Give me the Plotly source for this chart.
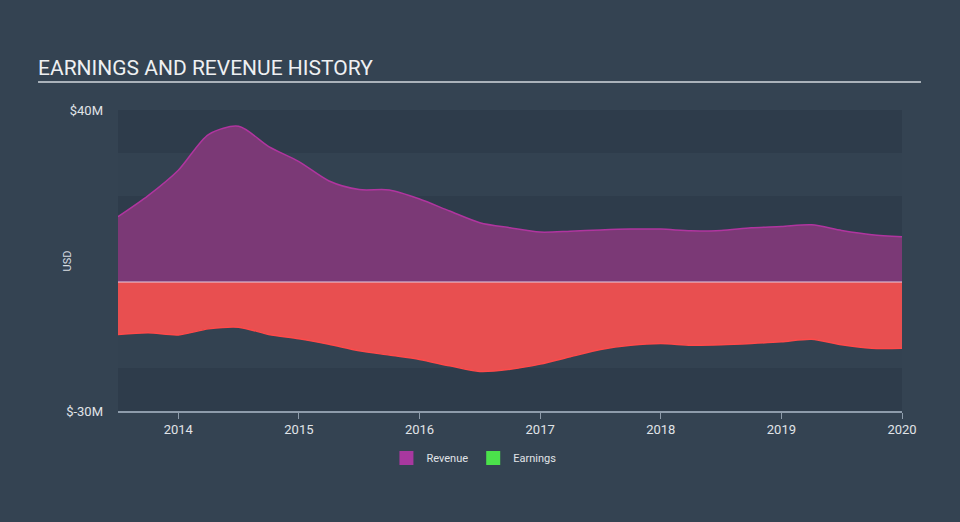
import plotly.graph_objects as go

# Quarterly positions (decimal years)
years = [2013.5 + 0.25 * i for i in range(27)]

revenue = [15.2, 20.1, 26.0, 34.3, 36.2, 31.5, 28.0, 23.5, 21.5, 21.4, 19.3, 16.5, 13.8,
           12.6, 11.6, 11.8, 12.1, 12.3, 12.3, 11.9, 12.0, 12.6, 12.9, 13.3, 12.0, 11.0, 10.5]
earnings = [-12.2, -11.8, -12.3, -10.9, -10.5, -12.2, -13.2, -14.5, -16.0, -17.0, -18.0, -19.5, -20.8,
            -20.3, -19.1, -17.4, -15.7, -14.7, -14.3, -14.7, -14.6, -14.3, -13.9, -13.3, -14.6, -15.4, -15.4]

x_ticks = [2014, 2015, 2016, 2017, 2018, 2019, 2020]
y_ticks = [-30, 40]
y_ticktext = ["$-30M", "$40M"]
band_edges = [40, 30, 20, 10, 0, -10, -20, -30]

BG = "#344352"
BAND_DARK = "#2e3c4b"
BAND_LIGHT = "#334251"

fig = go.Figure()

fig.add_trace(go.Scatter(
    x=years, y=revenue, mode="lines", fill="tozeroy",
    line=dict(color="#b0359f", width=1.5, shape="spline", smoothing=0.8),
    fillcolor="#7b3976", showlegend=False, hoverinfo="skip"))
fig.add_trace(go.Scatter(
    x=years, y=earnings, mode="lines", fill="tozeroy",
    line=dict(color="#ff4a4a", width=1.5, shape="spline", smoothing=0.8),
    fillcolor="#e84f50", showlegend=False, hoverinfo="skip"))

# legend proxies
fig.add_trace(go.Scatter(x=[None], y=[None], mode="markers", name="Revenue",
                         marker=dict(symbol="square", size=14, color="#a8389f")))
fig.add_trace(go.Scatter(x=[None], y=[None], mode="markers", name="Earnings",
                         marker=dict(symbol="square", size=14, color="#4be24b")))

shapes = []
for i in range(len(band_edges) - 1):
    if i % 2 == 0:
        shapes.append(dict(type="rect", xref="paper", yref="y", x0=0, x1=1,
                           y0=band_edges[i + 1], y1=band_edges[i],
                           fillcolor=BAND_DARK, line=dict(width=0), layer="below"))
shapes.append(dict(type="line", xref="paper", yref="y", x0=0, x1=1, y0=0, y1=0,
                   line=dict(color="#e6cfe2", width=1), layer="above"))
shapes.append(dict(type="line", xref="paper", yref="paper", x0=-0.102, x1=1.0242,
                   y0=1.093, y1=1.093, line=dict(color="#aab2ba", width=2)))

fig.update_layout(
    width=960, height=522,
    margin=dict(l=118, r=58, t=110, b=111),
    paper_bgcolor=BG, plot_bgcolor=BAND_LIGHT,
    font=dict(family="Roboto", color="#e0e4e8"),
    shapes=shapes,
    showlegend=True,
    legend=dict(orientation="h", x=0.454, xanchor="center", y=-0.156, yanchor="middle",
                font=dict(size=11, color="#e0e4e8"), bgcolor="rgba(0,0,0,0)",
                itemwidth=30, tracegroupgap=0),
    xaxis=dict(range=[2013.5, 2020.0], tickvals=x_ticks, ticktext=[str(v) for v in x_ticks],
               showgrid=False, zeroline=False, showline=True, linecolor="#8e9cab", linewidth=1.5,
               ticks="outside", ticklen=6, tickcolor="#8e9cab",
               tickfont=dict(size=13, color="#e0e4e8")),
    yaxis=dict(range=[-30, 40], tickvals=y_ticks, ticktext=y_ticktext, showgrid=False,
               zeroline=False, showline=False, ticks="", ticklabelstandoff=14,
               tickfont=dict(size=13, color="#e0e4e8")),
    annotations=[
        dict(text="EARNINGS AND REVENUE HISTORY", xref="paper", yref="paper",
             x=-0.104, y=1.1395, xanchor="left", yanchor="middle", showarrow=False,
             font=dict(size=21, color="#eef0f2", family="Roboto")),
        dict(text="USD", xref="paper", yref="paper", x=-0.0638, y=0.5, textangle=-90,
             xanchor="center", yanchor="middle", showarrow=False,
             font=dict(size=11, color="#d8dde2")),
    ],
)

fig.write_html("out.html")
